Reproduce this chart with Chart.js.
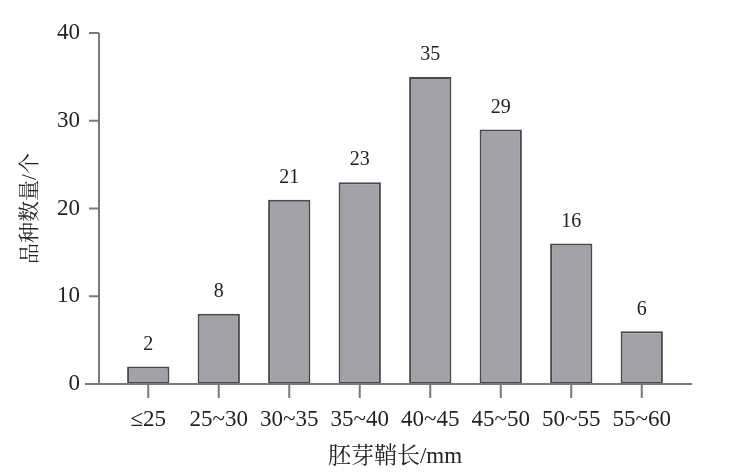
<!DOCTYPE html>
<html>
<head>
<meta charset="utf-8">
<script src="https://cdn.jsdelivr.net/npm/chart.js@4/dist/chart.umd.min.js"></script>
<style>
    html, body { margin: 0; padding: 0; background: #ffffff; }
    #wrap { width: 733px; height: 474px; }
</style>
</head>
<body>
<div id="wrap"><canvas id="chart" width="733" height="474"></canvas></div>
<script>
// ========================
// DADOS
// ========================
const categorias = ['≤25', '25~30', '30~35', '35~40', '40~45', '45~50', '50~55', '55~60'];
const quantidades = [2, 8, 21, 23, 35, 29, 16, 6];
const yTicks = [0, 10, 20, 30, 40];

const SERIF = '"Liberation Serif", "Noto Serif CJK SC", "Noto Sans CJK SC", serif';
const AXIS_COLOR = '#7a7a7a';

// ========================
// EIXOS (linhas e marcas)
// ========================
const eixosPlugin = {
    id: 'eixos',
    afterDatasetsDraw(chart) {
        const { ctx, chartArea, scales } = chart;
        const yAxisX = chartArea.left - 14;

        ctx.save();
        ctx.strokeStyle = AXIS_COLOR;
        ctx.lineWidth = 2;

        // eixo Y
        ctx.beginPath();
        ctx.moveTo(yAxisX, scales.y.getPixelForValue(40));
        ctx.lineTo(yAxisX, scales.y.getPixelForValue(0));
        ctx.stroke();

        yTicks.forEach(v => {
            const py = scales.y.getPixelForValue(v);
            ctx.beginPath();
            ctx.moveTo(yAxisX - 10, py);
            ctx.lineTo(yAxisX, py);
            ctx.stroke();
        });

        // eixo X
        const baseY = scales.y.getPixelForValue(0);
        ctx.beginPath();
        ctx.moveTo(yAxisX - 14, baseY);
        ctx.lineTo(chartArea.right + 15, baseY);
        ctx.stroke();

        categorias.forEach((_, i) => {
            const px = scales.x.getPixelForValue(i);
            ctx.beginPath();
            ctx.moveTo(px, baseY);
            ctx.lineTo(px, baseY + 14);
            ctx.stroke();
        });

        // rótulos dos valores
        const meta = chart.getDatasetMeta(0);
        ctx.fillStyle = '#222222';
        ctx.font = '20px ' + SERIF;
        ctx.textAlign = 'center';
        ctx.textBaseline = 'middle';
        meta.data.forEach((bar, i) => {
            ctx.fillText(String(quantidades[i]), bar.x, bar.y - 22);
        });

        ctx.restore();
    }
};

// ========================
// GRÁFICO
// ========================
new Chart(document.getElementById('chart').getContext('2d'), {
    type: 'bar',
    data: {
        labels: categorias,
        datasets: [{
            data: quantidades,
            backgroundColor: '#a1a1a7',
            borderColor: '#4a4a4a',
            borderWidth: 2,
            borderSkipped: false,
            barPercentage: 0.6,
            categoryPercentage: 1
        }]
    },
    options: {
        responsive: false,
        animation: false,
        layout: {
            padding: { top: 33, right: 56, bottom: 0, left: 0 }
        },
        plugins: {
            legend: { display: false },
            tooltip: { enabled: false }
        },
        scales: {
            x: {
                grid: { display: false, drawTicks: false },
                border: { display: false },
                ticks: {
                    color: '#222222',
                    padding: 22,
                    font: { family: SERIF, size: 23 }
                },
                title: {
                    display: true,
                    text: '胚芽鞘长/mm',
                    color: '#222222',
                    font: { family: SERIF, size: 23 },
                    padding: { top: 0, bottom: 3 }
                },
                afterFit(scale) {
                    scale.height = 90;
                    scale.paddingLeft = 0;
                    scale.paddingRight = 0;
                }
            },
            y: {
                min: 0,
                max: 40,
                grid: { display: false, drawTicks: false },
                border: { display: false },
                afterBuildTicks(scale) {
                    scale.ticks = yTicks.map(v => ({ value: v }));
                },
                ticks: {
                    color: '#222222',
                    padding: 33,
                    font: { family: SERIF, size: 23 }
                },
                title: {
                    display: true,
                    text: '品种数量/个',
                    color: '#222222',
                    font: { family: SERIF, size: 21 },
                    padding: { top: 18, bottom: 0 }
                },
                afterFit(scale) {
                    scale.width = 113;
                    scale.paddingTop = 0;
                    scale.paddingBottom = 0;
                }
            }
        }
    },
    plugins: [eixosPlugin]
});
</script>
</body>
</html>
